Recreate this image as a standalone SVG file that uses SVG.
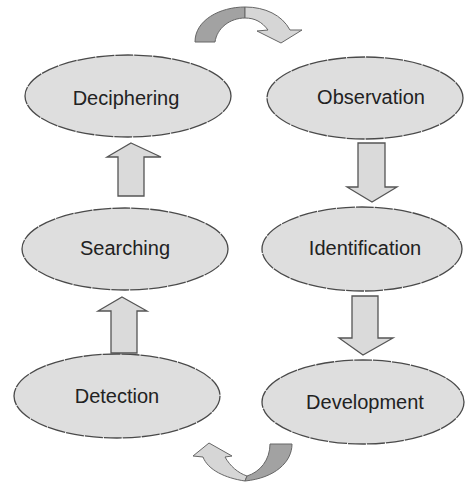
<svg xmlns="http://www.w3.org/2000/svg" width="466" height="483" viewBox="0 0 466 483">
<style>
.node ellipse{fill:#dedede;stroke:#4a4a4a;stroke-width:1.3;stroke-dasharray:18 1}
.node text{font-family:"Liberation Sans",Arial,sans-serif;font-size:20px;fill:#222;text-anchor:middle}
.arr{fill:#dadada;stroke:#555;stroke-width:1.3;stroke-linejoin:miter}
.dark{fill:#a2a2a2;stroke:#666;stroke-width:1}
.light{fill:#d6d6d6;stroke:#666;stroke-width:1}
</style>
<rect width="466" height="483" fill="#fff"/>
<g id="connectors">
<path class="arr" d="M131,143 L161,157 L144,157 L144,196 L118,196 L118,157 L107,157 Z"/>
<path class="arr" d="M122,297 L147,311 L137,311 L137,353 L111,353 L111,311 L98,311 Z"/>
<path class="arr" d="M358,143 L385,143 L385,187 L397,187 L372,202 L347,187 L358,187 Z"/>
<path class="arr" d="M352,296 L378,296 L378,338 L393,338 L363,355 L339,338 L352,338 Z"/>
<g id="curve-top">
<path class="dark" d="M195,42 C195,20 220,7 245,7 L245,18 C230,18 217,28 215,42 Z"/>
<path class="light" d="M245,7 C265,7 282,15 290,30 L302,30 L281,43 L257,31 L268,30 C262,22 255,18 245,18 Z"/>
</g>
<g id="curve-bottom">
<path class="light" d="M203,457 L193,456 L209,443 L232,456 L225,457 C230,466 238,473 247,476 L245,481 C225,478 208,470 203,457 Z"/>
<path class="dark" d="M245,481 C275,478 292,462 292,444 L270,444 C270,460 260,472 247,476 Z"/>
</g>
</g>
<g id="deciphering" class="node"><ellipse cx="128" cy="96" rx="103" ry="41"/><text x="126" y="105">Deciphering</text></g>
<g id="observation" class="node"><ellipse cx="365" cy="98" rx="98" ry="41"/><text x="371" y="104">Observation</text></g>
<g id="searching" class="node"><ellipse cx="125" cy="249" rx="103" ry="41"/><text x="125" y="255">Searching</text></g>
<g id="identification" class="node"><ellipse cx="362" cy="249" rx="100" ry="42"/><text x="365" y="255">Identification</text></g>
<g id="detection" class="node"><ellipse cx="117" cy="396" rx="103" ry="42"/><text x="117" y="403">Detection</text></g>
<g id="development" class="node"><ellipse cx="363" cy="402" rx="101" ry="42"/><text x="365" y="409">Development</text></g>
</svg>
